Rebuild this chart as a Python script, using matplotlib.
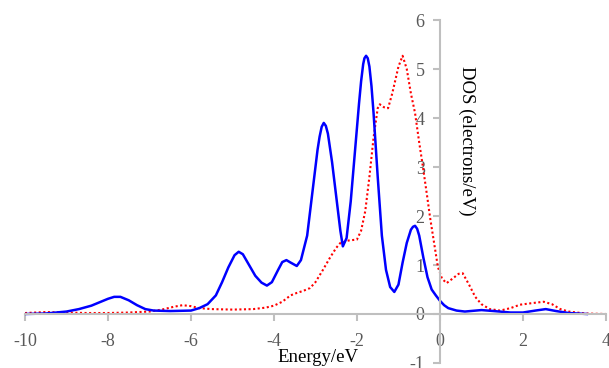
import matplotlib

matplotlib.use("Agg")
import matplotlib.pyplot as plt

# DOS curves (energy in eV, DOS in electrons/eV)
blue_e = [-10.0, -9.5, -9.0, -8.7, -8.4, -8.2, -8.0, -7.85, -7.7, -7.5, -7.3, -7.1,
          -6.9, -6.5, -6.0, -5.8, -5.6, -5.4, -5.25, -5.1, -4.95, -4.85, -4.75, -4.6,
          -4.45, -4.3, -4.17, -4.05, -3.9, -3.8, -3.7, -3.6, -3.45, -3.35, -3.2, -3.1,
          -3.0, -2.95, -2.9, -2.85, -2.8, -2.75, -2.7, -2.6, -2.5, -2.4, -2.34, -2.25,
          -2.15, -2.05, -1.95, -1.9, -1.85, -1.82, -1.78, -1.74, -1.7, -1.65, -1.6,
          -1.5, -1.4, -1.3, -1.2, -1.1, -1.0, -0.9, -0.8, -0.7, -0.65, -0.6, -0.55,
          -0.5, -0.4, -0.3, -0.2, -0.1, 0.0, 0.1, 0.2, 0.4, 0.6, 1.0, 1.3,
          1.7, 2.0, 2.3, 2.55, 2.8, 3.1, 3.54]
blue_dos = [0.0, 0.01, 0.05, 0.1, 0.17, 0.24, 0.31, 0.35, 0.35, 0.28, 0.18, 0.1,
            0.07, 0.06, 0.07, 0.12, 0.2, 0.38, 0.65, 0.95, 1.2, 1.27, 1.22, 1.0,
            0.78, 0.64, 0.58, 0.65, 0.9, 1.06, 1.1, 1.05, 0.98, 1.1, 1.6, 2.3,
            3.0, 3.35, 3.62, 3.82, 3.9, 3.84, 3.68, 3.1, 2.4, 1.7, 1.38, 1.55,
            2.3, 3.3, 4.3, 4.75, 5.1, 5.22, 5.27, 5.22, 5.05, 4.65, 4.1,
            2.8, 1.6, 0.9, 0.55, 0.45, 0.6, 1.05, 1.45, 1.72, 1.78, 1.8, 1.74,
            1.6, 1.15, 0.75, 0.5, 0.38, 0.27, 0.18, 0.12, 0.07, 0.05, 0.08, 0.06,
            0.03, 0.03, 0.07, 0.1, 0.06, 0.02, 0.0]

red_e = [-10.0, -9.5, -9.0, -8.5, -8.0, -7.5, -7.0, -6.7, -6.4, -6.2, -6.0, -5.8,
         -5.5, -5.0, -4.5, -4.2, -4.0, -3.8, -3.6, -3.45, -3.3, -3.13, -3.0, -2.82,
         -2.65, -2.5, -2.4, -2.2, -2.0, -1.9, -1.8, -1.7, -1.6, -1.5, -1.45, -1.35,
         -1.25, -1.15, -1.0, -0.9, -0.8, -0.7, -0.6, -0.5, -0.41, -0.3, -0.24, -0.16,
         -0.05, 0.05, 0.16, 0.3, 0.45, 0.55, 0.7, 0.85, 1.0, 1.2, 1.45, 1.7, 1.93,
         2.2, 2.5, 2.7, 2.9, 3.1, 3.5, 4.0]
red_dos = [0.02, 0.04, 0.03, 0.02, 0.02, 0.03, 0.05, 0.09, 0.15, 0.18, 0.16, 0.12,
           0.1, 0.09, 0.1, 0.13, 0.17, 0.25, 0.38, 0.43, 0.47, 0.53, 0.65, 0.9,
           1.15, 1.35, 1.45, 1.5, 1.52, 1.7, 2.1, 2.8, 3.6, 4.2, 4.28, 4.22,
           4.2, 4.5, 5.05, 5.27, 5.0, 4.5, 4.1, 3.5, 3.0, 2.35, 1.98, 1.55,
           0.96, 0.72, 0.63, 0.72, 0.82, 0.83, 0.6, 0.35, 0.2, 0.1, 0.07, 0.12, 0.19,
           0.22, 0.25, 0.2, 0.1, 0.05, 0.01, 0.0]

x_ticks = [-10, -8, -6, -4, -2, 0, 2, 4]
y_ticks = [-1, 0, 1, 2, 3, 4, 5, 6]

AXIS = "#bfbfbf"
LABEL = "#595959"

plt.rcParams["font.family"] = ["Liberation Serif", "DejaVu Serif"]

fig = plt.figure(figsize=(6.09, 3.68), dpi=100)
ax = fig.add_axes([0.041, 0.0136, 0.954, 0.932])

ax.plot(red_e, red_dos, color="#ff0000", lw=1.5, ls=(0, (1, 1.2)))
ax.plot(blue_e, blue_dos, color="#0000ff", lw=1.8)

ax.set_xlim(-10, 4)
ax.set_ylim(-1, 6)
ax.set_xticks(x_ticks)
ax.set_yticks(y_ticks)
ax.set_xticklabels([str(v) for v in x_ticks])
ax.set_yticklabels([str(v) for v in y_ticks])

ax.spines["left"].set_position(("data", 0))
ax.spines["bottom"].set_position(("data", 0))
ax.spines["top"].set_visible(False)
ax.spines["right"].set_visible(False)
for s in ("left", "bottom"):
    ax.spines[s].set_color(AXIS)
    ax.spines[s].set_linewidth(1.5)
ax.tick_params(axis="both", direction="out", length=5, width=1.5, color=AXIS,
               labelcolor=LABEL, labelsize=13)
ax.tick_params(axis="x", pad=9)
ax.tick_params(axis="y", pad=6)
ax.patch.set_visible(False)

fig.text(318 / 609, 1 - 362 / 368, "Energy/eV", ha="center", va="baseline",
         fontsize=13.5, color="black")
fig.text(467 / 609, 1 - 141 / 368, "DOS (electrons/eV)", ha="center", va="center",
         rotation=-90, fontsize=13.5, color="black")

fig.savefig("out.png", dpi=100)
